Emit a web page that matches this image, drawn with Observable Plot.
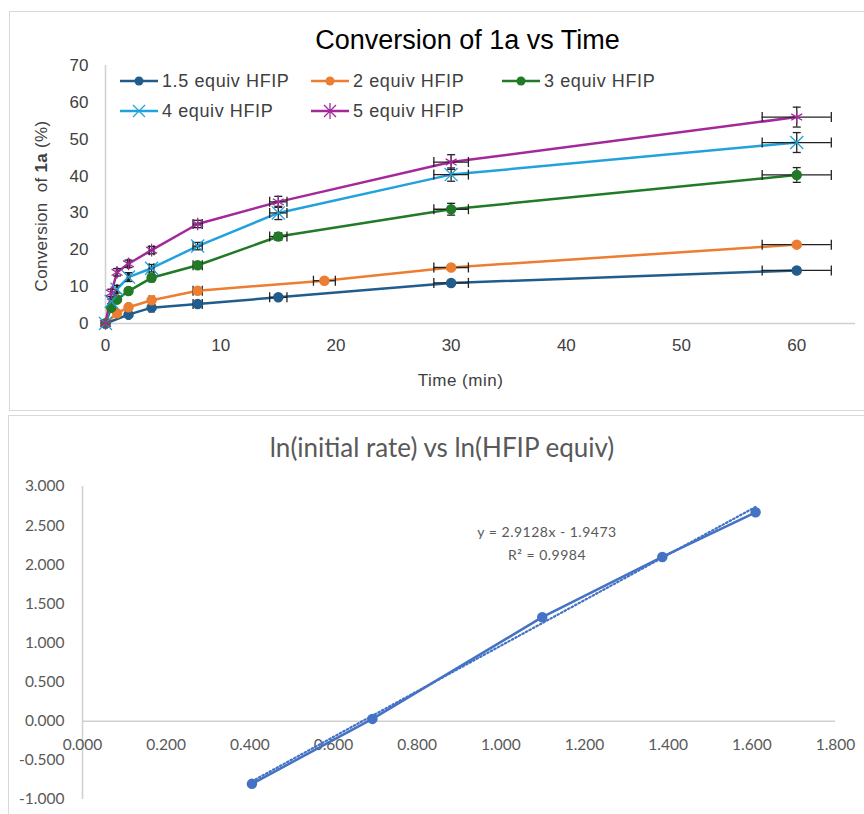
<!DOCTYPE html>
<html>
<head>
<meta charset="utf-8">
<script src="https://cdn.jsdelivr.net/npm/d3@7"></script>
<script src="https://cdn.jsdelivr.net/npm/@observablehq/plot@0.6"></script>
<style>
  html, body { margin: 0; padding: 0; background: #fff; }
  body { width: 864px; height: 814px; position: relative; overflow: hidden; }
  .box { position: absolute; border: 1px solid #d9d9d9; box-sizing: border-box; }
  .abs { position: absolute; white-space: nowrap; line-height: 1; }
  .top { font-family: "Liberation Sans", Arial, sans-serif; color: #404040; }
  .bot { font-family: Lato, "Open Sans", sans-serif; color: #595959; }
  svg.plot { position: absolute; left: 0; }
</style>
</head>
<body>
<div class="box" style="left:9px; top:11px; width:880px; height:400px;"></div>
<div class="box" style="left:8px; top:415px; width:880px; height:420px;"></div>
<div id="chart1"></div>
<div id="chart2"></div>
<script>
// ---------- Top chart data: Conversion of 1a vs Time ----------
const seriesNames = ["1.5 equiv HFIP", "2 equiv HFIP", "3 equiv HFIP", "4 equiv HFIP", "5 equiv HFIP"];
const seriesColors = ["#215d8c", "#ed7d31", "#217a26", "#22a2dc", "#a3299b"];
const seriesSymbols = ["circle", "circle", "circle", "times", "asterisk"];

const time1_5 = [0, 2, 4, 8, 15, 30, 60];
const conv1_5 = [0, 2.4, 4.3, 5.3, 7.1, 11.0, 14.4];
const err1_5  = [0, 0.3, 0.3, 0.3, 0.4, 0.4, 0.4];

const time2 = [0, 1, 2, 4, 8, 19, 30, 60];
const conv2 = [0, 2.8, 4.4, 6.3, 8.9, 11.6, 15.2, 21.4];
const err2  = [0, 0.3, 0.3, 0.4, 0.4, 0.5, 0.5, 0.5];

const time3 = [0, 0.5, 1, 2, 4, 8, 15, 30, 60];
const conv3 = [0, 4.3, 6.5, 8.8, 12.4, 15.8, 23.6, 31.0, 40.3];
const err3  = [0, 0.4, 0.5, 0.5, 0.8, 0.8, 1.0, 1.6, 2.0];

const time4 = [0, 0.5, 1, 2, 4, 8, 15, 30, 60];
const conv4 = [0, 6.0, 9.3, 12.6, 15.0, 21.0, 30.0, 40.4, 49.1];
const err4  = [0, 0.6, 1.0, 1.2, 1.0, 1.0, 1.8, 1.8, 2.7];

const time5 = [0, 0.5, 1, 2, 4, 8, 15, 30, 60];
const conv5 = [0, 8.3, 13.9, 16.2, 19.9, 27.0, 33.0, 43.8, 56.0];
const err5  = [0, 1.0, 1.0, 1.0, 1.0, 1.0, 1.5, 2.0, 2.7];

const timeErrFraction = 0.05; // horizontal error bars: ±5% of time
const topYTicks = [0, 10, 20, 30, 40, 50, 60, 70];
const topXTicks = [0, 10, 20, 30, 40, 50, 60];

// ---------- Bottom chart data: ln(initial rate) vs ln(HFIP equiv) ----------
const lnEquiv = [0.405, 0.693, 1.099, 1.386, 1.609];
const lnRate  = [-0.80, 0.03, 1.33, 2.10, 2.67];
const fitSlope = 2.9128, fitIntercept = -1.9473, fitR2 = 0.9984;
const botYTicks = [-1, -0.5, 0, 0.5, 1, 1.5, 2, 2.5, 3];
const botXTicks = [0, 0.2, 0.4, 0.6, 0.8, 1.0, 1.2, 1.4, 1.6, 1.8];

// ---------- Build top table ----------
const timesAll = [time1_5, time2, time3, time4, time5];
const convsAll = [conv1_5, conv2, conv3, conv4, conv5];
const errsAll = [err1_5, err2, err3, err4, err5];
const rows = [];
seriesNames.forEach((s, i) => {
  timesAll[i].forEach((t, j) => {
    const v = convsAll[i][j], e = errsAll[i][j];
    rows.push({series: s, idx: i, t, v, e,
      xlo: t * (1 - timeErrFraction), xhi: t * (1 + timeErrFraction),
      ylo: v - e, yhi: v + e});
  });
});
const errRows = rows.filter(d => d.t > 0);

const capV = {draw(ctx, size) { const r = Math.sqrt(size / Math.PI); ctx.moveTo(0, -r); ctx.lineTo(0, r); }};
const capH = {draw(ctx, size) { const r = Math.sqrt(size / Math.PI); ctx.moveTo(-r, 0); ctx.lineTo(r, 0); }};

const colorOf = d => seriesColors[d.idx];

const topChart = Plot.plot({
  width: 864, height: 410,
  marginLeft: 105, marginRight: 9, marginTop: 65, marginBottom: 87,
  x: {domain: [0, 65.1]},
  y: {domain: [0, 70]},
  style: {fontFamily: '"Liberation Sans", Arial, sans-serif', fontSize: "17px", color: "#404040", background: "transparent", overflow: "visible"},
  marks: [
    Plot.ruleY([0], {stroke: "#d0d0d0", strokeWidth: 1.5}),
    Plot.ruleX([0], {stroke: "#d0d0d0", strokeWidth: 1.5}),
    Plot.axisY({ticks: topYTicks, tickSize: 0, tickPadding: 17, label: null}),
    Plot.axisX({ticks: topXTicks, tickSize: 0, tickPadding: 15, label: null}),
    Plot.line(rows, {x: "t", y: "v", z: "series", stroke: colorOf, strokeWidth: 2.5}),
    Plot.ruleY(errRows, {y: "v", x1: "xlo", x2: "xhi", stroke: "#222", strokeWidth: 1.3}),
    Plot.dot(errRows, {x: "xlo", y: "v", symbol: capV, r: 5, stroke: "#222", strokeWidth: 1.3}),
    Plot.dot(errRows, {x: "xhi", y: "v", symbol: capV, r: 5, stroke: "#222", strokeWidth: 1.3}),
    Plot.ruleX(errRows, {x: "t", y1: "ylo", y2: "yhi", stroke: "#222", strokeWidth: 1.3}),
    Plot.dot(errRows, {x: "t", y: "ylo", symbol: capH, r: 4, stroke: "#222", strokeWidth: 1.3}),
    Plot.dot(errRows, {x: "t", y: "yhi", symbol: capH, r: 4, stroke: "#222", strokeWidth: 1.3}),
    Plot.dot(rows.filter(d => seriesSymbols[d.idx] === "circle"), {x: "t", y: "v", r: 4.5, fill: colorOf, stroke: colorOf}),
    Plot.dot(rows.filter(d => seriesSymbols[d.idx] !== "circle"), {x: "t", y: "v", r: 6, symbol: d => seriesSymbols[d.idx], stroke: colorOf, strokeWidth: 1.3, fill: "none"})
  ]
});
topChart.classList.add("plot");
topChart.style.top = "0px";
document.getElementById("chart1").appendChild(topChart);

// Titles and legend (HTML)
function addText(html, cls, style) {
  const d = document.createElement("div");
  d.className = "abs " + cls;
  d.innerHTML = html;
  Object.assign(d.style, style);
  document.body.appendChild(d);
  return d;
}
addText("Conversion of 1a vs Time", "top", {left: "0px", width: "935px", textAlign: "center", top: "27px", fontSize: "27px", color: "#000"});
addText("Time (min)", "top", {left: "0px", width: "921px", textAlign: "center", top: "372px", fontSize: "17px", letterSpacing: "0.5px"});
addText("Conversion&nbsp; of <b>1a</b> (%)", "top", {left: "-58px", width: "200px", textAlign: "center", top: "197px", fontSize: "17px", letterSpacing: "0.3px", transform: "rotate(-90deg)", transformOrigin: "100px 9px"});

const legendPos = [[120, 81], [311, 81], [502, 81], [120, 111], [311, 111]];
seriesNames.forEach((s, i) => {
  const [lx, ly] = legendPos[i];
  const c = seriesColors[i];
  let marker;
  if (seriesSymbols[i] === "circle") marker = `<circle cx="19" cy="10" r="4.5" fill="${c}"/>`;
  else if (seriesSymbols[i] === "times") marker = `<path d="M13,4L25,16M25,4L13,16" stroke="${c}" stroke-width="1.3"/>`;
  else marker = `<path d="M13,4L25,16M25,4L13,16M19,2L19,18" stroke="${c}" stroke-width="1.3"/>`;
  const d = document.createElement("div");
  d.className = "abs top";
  Object.assign(d.style, {left: lx + "px", top: (ly - 10) + "px", height: "20px", display: "flex", alignItems: "center", fontSize: "18px", letterSpacing: "0.6px"});
  d.innerHTML = `<svg width="38" height="20" style="margin-right:4px"><line x1="0" y1="10" x2="38" y2="10" stroke="${c}" stroke-width="2.5"/>${marker}</svg><span>${s}</span>`;
  document.body.appendChild(d);
});

// ---------- Bottom chart ----------
const pts = lnEquiv.map((x, i) => ({x, y: lnRate[i]}));
const xMin = d3.min(lnEquiv), xMax = d3.max(lnEquiv);
const fitLine = [xMin, xMax].map(x => ({x, y: fitSlope * x + fitIntercept}));
const fmt3 = d => d.toFixed(3);

const botChart = Plot.plot({
  width: 864, height: 404,
  marginLeft: 82, marginRight: 29, marginTop: 76, marginBottom: 15,
  x: {domain: [0, 1.8], axis: null},
  y: {domain: [-1, 3]},
  style: {fontFamily: 'Lato, "Open Sans", sans-serif', fontSize: "15.5px", color: "#595959", background: "transparent", overflow: "visible"},
  marks: [
    Plot.ruleX([0], {stroke: "#d0d0d0", strokeWidth: 1.5}),
    Plot.ruleY([0], {stroke: "#d0d0d0", strokeWidth: 1.5}),
    Plot.axisY({ticks: botYTicks, tickSize: 0, tickPadding: 18, tickFormat: fmt3, label: null}),
    Plot.text(botXTicks, {x: d => d, y: 0, dy: 24, text: fmt3, fill: "#595959"}),
    Plot.line(fitLine, {x: "x", y: "y", stroke: "#4472c4", strokeWidth: 2.2, strokeDasharray: "1.5,2.5"}),
    Plot.line(pts, {x: "x", y: "y", stroke: "#4472c4", strokeWidth: 2.5}),
    Plot.dot(pts, {x: "x", y: "y", r: 4.5, fill: "#4472c4", stroke: "#4472c4"})
  ]
});
botChart.classList.add("plot");
botChart.style.top = "410px";
document.getElementById("chart2").appendChild(botChart);

addText("ln(initial rate) vs ln(HFIP equiv)", "bot", {left: "0px", width: "884px", textAlign: "center", top: "434px", fontSize: "26px"});
addText(`y = ${fitSlope}x - ${Math.abs(fitIntercept)}<br>R² = ${fitR2}`, "bot", {left: "447px", width: "200px", textAlign: "center", top: "520px", fontSize: "14px", lineHeight: "23px", letterSpacing: "0.5px"});
</script>
</body>
</html>
